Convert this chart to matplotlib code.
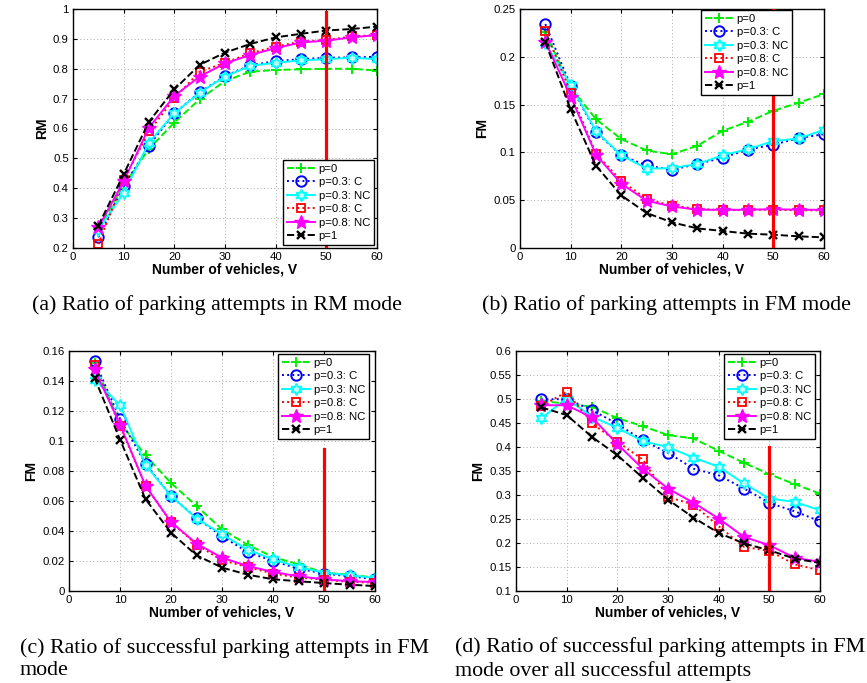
import matplotlib
matplotlib.use("Agg")
import matplotlib.pyplot as plt
from matplotlib.ticker import FuncFormatter

plt.rcParams['font.family'] = ['Liberation Sans', 'DejaVu Sans']

V = [5, 10, 15, 20, 25, 30, 35, 40, 45, 50, 55, 60]
labels = ['p=0', 'p=0.3: C', 'p=0.3: NC', 'p=0.8: C', 'p=0.8: NC', 'p=1']

# (a) Ratio of parking attempts in RM mode
a_p0    = [0.262, 0.41, 0.532, 0.62, 0.698, 0.759, 0.79, 0.796, 0.798, 0.80, 0.80, 0.794]
a_p03C  = [0.236, 0.406, 0.543, 0.651, 0.721, 0.776, 0.811, 0.826, 0.832, 0.837, 0.838, 0.84]
a_p03NC = [0.26, 0.384, 0.553, 0.651, 0.72, 0.774, 0.81, 0.82, 0.828, 0.832, 0.837, 0.832]
a_p08C  = [0.213, 0.428, 0.59, 0.701, 0.79, 0.82, 0.852, 0.874, 0.891, 0.896, 0.908, 0.913]
a_p08NC = [0.269, 0.423, 0.603, 0.709, 0.774, 0.818, 0.846, 0.869, 0.888, 0.894, 0.905, 0.913]
a_p1    = [0.275, 0.447, 0.623, 0.731, 0.813, 0.854, 0.883, 0.905, 0.917, 0.928, 0.933, 0.941]

# (b) Ratio of parking attempts in FM mode
b_p0    = [0.226, 0.168, 0.1347, 0.1139, 0.102, 0.098, 0.107, 0.1226, 0.132, 0.1435, 0.152, 0.161]
b_p03C  = [0.2343, 0.1696, 0.1212, 0.0968, 0.0864, 0.0818, 0.0878, 0.0944, 0.103, 0.108, 0.115, 0.119]
b_p03NC = [0.214, 0.171, 0.122, 0.097, 0.083, 0.0836, 0.0878, 0.097, 0.1034, 0.1118, 0.1146, 0.1236]
b_p08C  = [0.227, 0.1626, 0.0985, 0.0703, 0.0512, 0.0442, 0.0411, 0.0394, 0.040, 0.040, 0.0394, 0.0394]
b_p08NC = [0.216, 0.1584, 0.0975, 0.0672, 0.0494, 0.0435, 0.040, 0.040, 0.040, 0.0407, 0.040, 0.040]
b_p1    = [0.215, 0.145, 0.086, 0.055, 0.0366, 0.0268, 0.0205, 0.0178, 0.015, 0.0139, 0.0122, 0.0111]

# (c) Ratio of successful parking attempts in FM mode
c_p0    = [0.1517, 0.112, 0.0905, 0.072, 0.0567, 0.0411, 0.0309, 0.0227, 0.0178, 0.0122, 0.0109, 0.0089]
c_p03C  = [0.1535, 0.1146, 0.085, 0.0632, 0.0487, 0.0365, 0.026, 0.020, 0.0149, 0.0116, 0.0098, 0.0078]
c_p03NC = [0.141, 0.124, 0.0839, 0.0634, 0.0483, 0.0378, 0.0276, 0.0211, 0.016, 0.0122, 0.0105, 0.0087]
c_p08C  = [0.1506, 0.1101, 0.0701, 0.046, 0.0309, 0.0205, 0.016, 0.0116, 0.0089, 0.0076, 0.006, 0.0056]
c_p08NC = [0.1477, 0.111, 0.0701, 0.046, 0.0316, 0.0222, 0.0167, 0.0127, 0.0098, 0.0078, 0.0065, 0.006]
c_p1    = [0.1422, 0.101, 0.0612, 0.0389, 0.0238, 0.0156, 0.0109, 0.0078, 0.0065, 0.0053, 0.0042, 0.0033]

# (d) Ratio of successful parking attempts in FM mode over all successful attempts
d_p0    = [0.496, 0.49, 0.484, 0.46, 0.4435, 0.4248, 0.4178, 0.392, 0.367, 0.3434, 0.3225, 0.303]
d_p03C  = [0.499, 0.50, 0.477, 0.448, 0.414, 0.388, 0.355, 0.341, 0.3135, 0.2836, 0.266, 0.2453]
d_p03NC = [0.46, 0.501, 0.463, 0.44, 0.412, 0.40, 0.378, 0.3587, 0.324, 0.2926, 0.2857, 0.268]
d_p08C  = [0.485, 0.515, 0.449, 0.411, 0.374, 0.296, 0.28, 0.235, 0.192, 0.1834, 0.1556, 0.143]
d_p08NC = [0.487, 0.487, 0.4616, 0.406, 0.355, 0.3135, 0.284, 0.251, 0.2127, 0.1953, 0.1695, 0.1605]
d_p1    = [0.4825, 0.4665, 0.421, 0.383, 0.336, 0.2905, 0.253, 0.221, 0.199, 0.1848, 0.1674, 0.1584]

captions = ['(a) Ratio of parking attempts in RM mode',
            '(b) Ratio of parking attempts in FM mode',
            '(c) Ratio of successful parking attempts in FM\nmode',
            '(d) Ratio of successful parking attempts in FM\nmode over all successful attempts']

hexagram = (6, 1, 0)
styles = [
    dict(color='#00ee00', ls='--', marker='+', ms=7.5, mew=1.4, mfc='none'),
    dict(color='#0000ff', ls=':', marker='o', ms=7.5, mew=1.4, mfc='none'),
    dict(color='#00ffff', ls='-', marker=hexagram, ms=8.5, mew=1.3, mfc='#ccffff'),
    dict(color='#ff0000', ls=':', marker='s', ms=6, mew=1.3, mfc='none'),
    dict(color='#ff00ff', ls='-', marker='*', ms=10, mew=1.0, mfc='#ff00ff'),
    dict(color='#000000', ls='--', marker='x', ms=5.5, mew=1.7, mfc='none'),
]

fig = plt.figure(figsize=(8.67, 6.83), dpi=100)

# leg: (anchor location, x px, y px) of the legend corner in figure pixels
panels = [
    dict(pos=[73/867, 1-248/683, 304/867, 239/683], data=[a_p0, a_p03C, a_p03NC, a_p08C, a_p08NC, a_p1],
         ylim=(0.2, 1.0), yticks=[0.2, 0.3, 0.4, 0.5, 0.6, 0.7, 0.8, 0.9, 1.0], ylabel='RM',
         red=(0.2, 0.99), leg=('lower right', 374, 245)),
    dict(pos=[520/867, 1-248/683, 304/867, 239/683], data=[b_p0, b_p03C, b_p03NC, b_p08C, b_p08NC, b_p1],
         ylim=(0, 0.25), yticks=[0, 0.05, 0.1, 0.15, 0.2, 0.25], ylabel='FM',
         red=(0, 0.25), leg=('upper right', 792, 10)),
    dict(pos=[69/867, 1-591/683, 306/867, 240/683], data=[c_p0, c_p03C, c_p03NC, c_p08C, c_p08NC, c_p1],
         ylim=(0, 0.16), yticks=[0, 0.02, 0.04, 0.06, 0.08, 0.1, 0.12, 0.14, 0.16], ylabel='FM',
         red=(0, 0.095), leg=('upper right', 369, 354)),
    dict(pos=[516/867, 1-591/683, 304/867, 240/683], data=[d_p0, d_p03C, d_p03NC, d_p08C, d_p08NC, d_p1],
         ylim=(0.1, 0.6), yticks=[0.1, 0.15, 0.2, 0.25, 0.3, 0.35, 0.4, 0.45, 0.5, 0.55, 0.6], ylabel='FM',
         red=(0.1, 0.399), leg=('upper right', 815, 354)),
]

fmt = FuncFormatter(lambda v, p: ('%g' % round(v, 4)))

for pn in panels:
    ax = fig.add_axes(pn['pos'])
    for series, lab, st in zip(pn['data'], labels, styles):
        ax.plot(V, series, label=lab, lw=1.4, color=st['color'], ls=st['ls'],
                marker=st['marker'], ms=st['ms'], mew=st['mew'], mfc=st['mfc'], mec=st['color'])
    ax.plot([50, 50], list(pn['red']), color='#ff0000', lw=2.3, zorder=4)
    ax.set_xlim(0, 60)
    ax.set_ylim(*pn['ylim'])
    ax.set_xticks([0, 10, 20, 30, 40, 50, 60])
    ax.set_yticks(pn['yticks'])
    ax.yaxis.set_major_formatter(fmt)
    ax.tick_params(direction='in', top=True, right=True, length=3, width=0.8, labelsize=8.2, pad=3)
    ax.grid(True, ls=(0, (1, 2.5)), color='#aaaaaa', lw=0.7)
    for s in ax.spines.values():
        s.set_linewidth(1.0)
    ax.set_xlabel('Number of vehicles, V', fontsize=10, fontweight='bold', labelpad=0)
    ax.set_ylabel(pn['ylabel'], fontsize=10, fontweight='bold', labelpad=3)
    loc, lx, ly = pn['leg']
    leg = ax.legend(loc=loc, bbox_to_anchor=(lx/867, 1-ly/683), bbox_transform=fig.transFigure,
                    fontsize=8.2, frameon=True, fancybox=False, edgecolor='black', framealpha=1,
                    handlelength=2.5, handletextpad=0.3, labelspacing=0.3, borderpad=0.35,
                    borderaxespad=0)
    leg.get_frame().set_linewidth(1.0)

cap_font = dict(family=['Liberation Serif', 'DejaVu Serif'], fontsize=15.8)
fig.text(217/867, 1-305/683, captions[0], ha='center', va='center', **cap_font)
fig.text(666/867, 1-305/683, captions[1], ha='center', va='center', **cap_font)
fig.text(20/867, 1-659/683, captions[2], ha='left', va='center', linespacing=1.25, **cap_font)
fig.text(455/867, 1-659/683, captions[3], ha='left', va='center', linespacing=1.25, **cap_font)

fig.savefig('out.png', dpi=100)
